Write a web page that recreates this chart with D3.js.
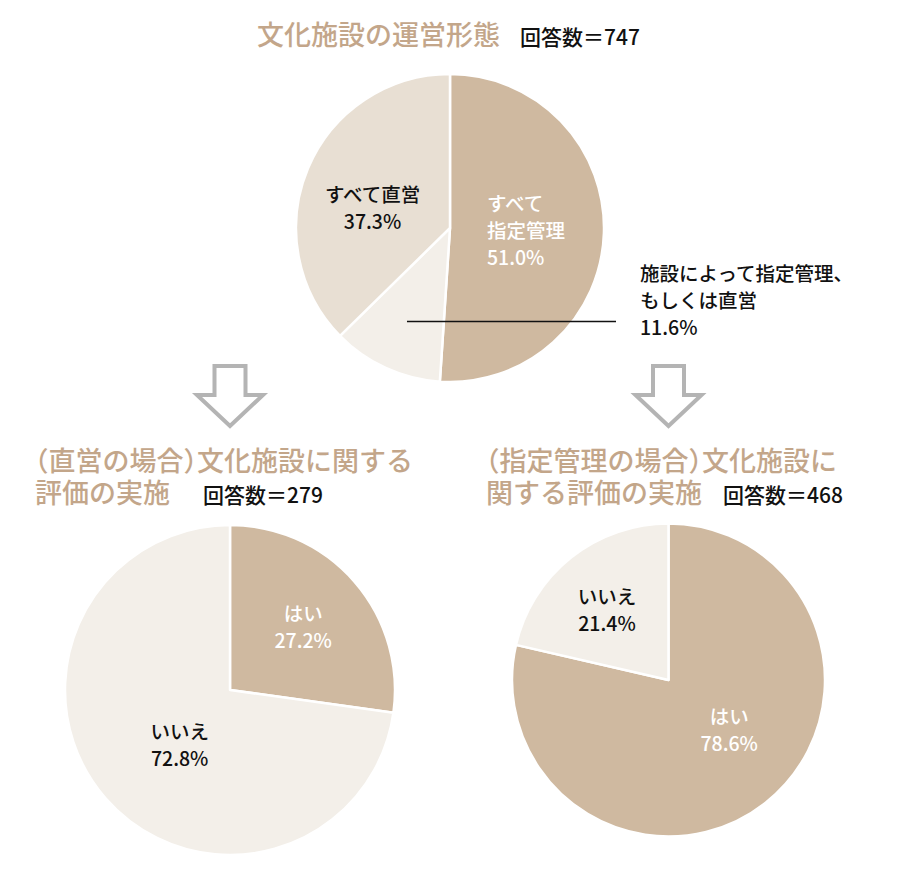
<!DOCTYPE html>
<html>
<head>
<meta charset="utf-8">
<style>
  body { margin: 0; background: #fff; }
  text { font-family: "Noto Sans CJK JP", "Noto Sans", sans-serif; }
  .title { font-feature-settings: "halt"; }
</style>
</head>
<body>
<script src="https://cdn.jsdelivr.net/npm/d3@7"></script>
<script>
// --- data ---
var typeNames = ["すべて\n指定管理", "施設によって指定管理、\nもしくは直営", "すべて直営"];
var typeValues = [51.0, 11.6, 37.3];
var typeCount = 747;

var evalNames = ["はい", "いいえ"];
var directValues = [27.2, 72.8];
var directCount = 279;
var managedValues = [78.6, 21.4];
var managedCount = 468;

var typeTitle = ["文化施設の運営形態"];
var directTitle = ["（直営の場合）文化施設に関する", "評価の実施"];
var managedTitle = ["（指定管理の場合）文化施設に", "関する評価の実施"];

// --- styles ---
var dark = "#cfb9a0", mid = "#e8dfd3", light = "#f3efe9";
var titleColor = "#c3a68a", arrowColor = "#b4b4b4";
var lh = 27;

var charts = [
  { names: typeNames, values: typeValues, count: typeCount, title: typeTitle,
    cx: 450, cy: 228, r: 154, colors: [dark, light, mid],
    titleX: 257, titleY: 45, countX: 520,
    labels: [ { r: 37, anchor: "start", fill: "#fff" },
              { r: 103, leader: 616, fill: "#111" },
              { r: 84, dy: 12, fill: "#111" } ] },
  { names: evalNames, values: directValues, count: directCount, title: directTitle,
    cx: 230, cy: 690, r: 165, colors: [dark, light],
    titleX: 35, titleY: 471, countX: 203,
    labels: [ { r: 97, fill: "#fff" }, { r: 76, dx: 7, dy: 4, fill: "#111" } ] },
  { names: evalNames, values: managedValues, count: managedCount, title: managedTitle,
    cx: 668.5, cy: 680, r: 156.5, colors: [dark, light],
    titleX: 486, titleY: 471, countX: 723,
    labels: [ { r: 75, dx: 14, dy: -10, fill: "#fff" }, { r: 94, dx: -3, dy: 3, fill: "#111" } ] }
];

var svg = d3.select("body").append("svg")
  .attr("width", 900)
  .attr("height", 884);

var pie = d3.pie().sort(null).value(function(d) { return d; });

charts.forEach(function(c) {
  // title
  var t = svg.append("g");
  c.title.forEach(function(line, i) {
    t.append("text")
      .attr("class", "title")
      .attr("x", c.titleX)
      .attr("y", c.titleY + i * 32)
      .attr("fill", titleColor)
      .attr("font-size", 27)
      .attr("font-weight", 500)
      .text(line);
  });
  t.append("text")
    .attr("x", c.countX)
    .attr("y", c.titleY + (c.title.length - 1) * 32)
    .attr("fill", "#111")
    .attr("font-size", 21)
    .attr("font-weight", 500)
    .text("回答数＝" + c.count);

  var g = svg.append("g").attr("transform", "translate(" + c.cx + "," + c.cy + ")");
  var arc = d3.arc().innerRadius(0).outerRadius(c.r);
  var arcs = pie(c.values);

  g.selectAll("path")
    .data(arcs)
    .enter()
    .append("path")
    .attr("d", arc)
    .attr("fill", function(d, i) { return c.colors[i]; })
    .attr("stroke", "#fff")
    .attr("stroke-width", 2.5)
    .attr("stroke-linejoin", "round");

  arcs.forEach(function(d, i) {
    var opt = c.labels[i];
    var p = d3.arc().innerRadius(opt.r).outerRadius(opt.r).centroid(d);
    var x = p[0] + (opt.dx || 0), y = p[1] + (opt.dy || 0);
    var lines = c.names[i].split("\n").concat([d.data.toFixed(1) + "%"]);
    var anchor = opt.anchor || "middle";
    var y0 = y - (lines.length - 1) * lh / 2;

    if (opt.leader) {
      g.append("line")
        .attr("x1", x).attr("y1", y)
        .attr("x2", opt.leader - c.cx).attr("y2", y)
        .attr("stroke", "#111")
        .attr("stroke-width", 1.5);
      x = opt.leader - c.cx + 24;
      anchor = "start";
      y0 = y + 5 - (lines.length - 1) * lh;
    }

    var txt = g.append("text")
      .attr("text-anchor", anchor)
      .attr("fill", opt.fill)
      .attr("font-size", 19.5)
      .attr("font-weight", 500);
    lines.forEach(function(s, k) {
      txt.append("tspan")
        .attr("x", x)
        .attr("y", y0 + k * lh)
        .attr("dominant-baseline", "central")
        .text(s);
    });
  });
});

// arrows down to the two lower charts
charts.slice(1).forEach(function(c) {
  var x = c.cx, top = 366, base = 395, tip = 426, sw = 15.5, hw = 33;
  var pts = [[x - sw, top], [x + sw, top], [x + sw, base], [x + hw, base],
             [x, tip], [x - hw, base], [x - sw, base]];
  svg.append("path")
    .attr("d", d3.line()(pts) + "Z")
    .attr("fill", "none")
    .attr("stroke", arrowColor)
    .attr("stroke-width", 4);
});
</script>
</body>
</html>
